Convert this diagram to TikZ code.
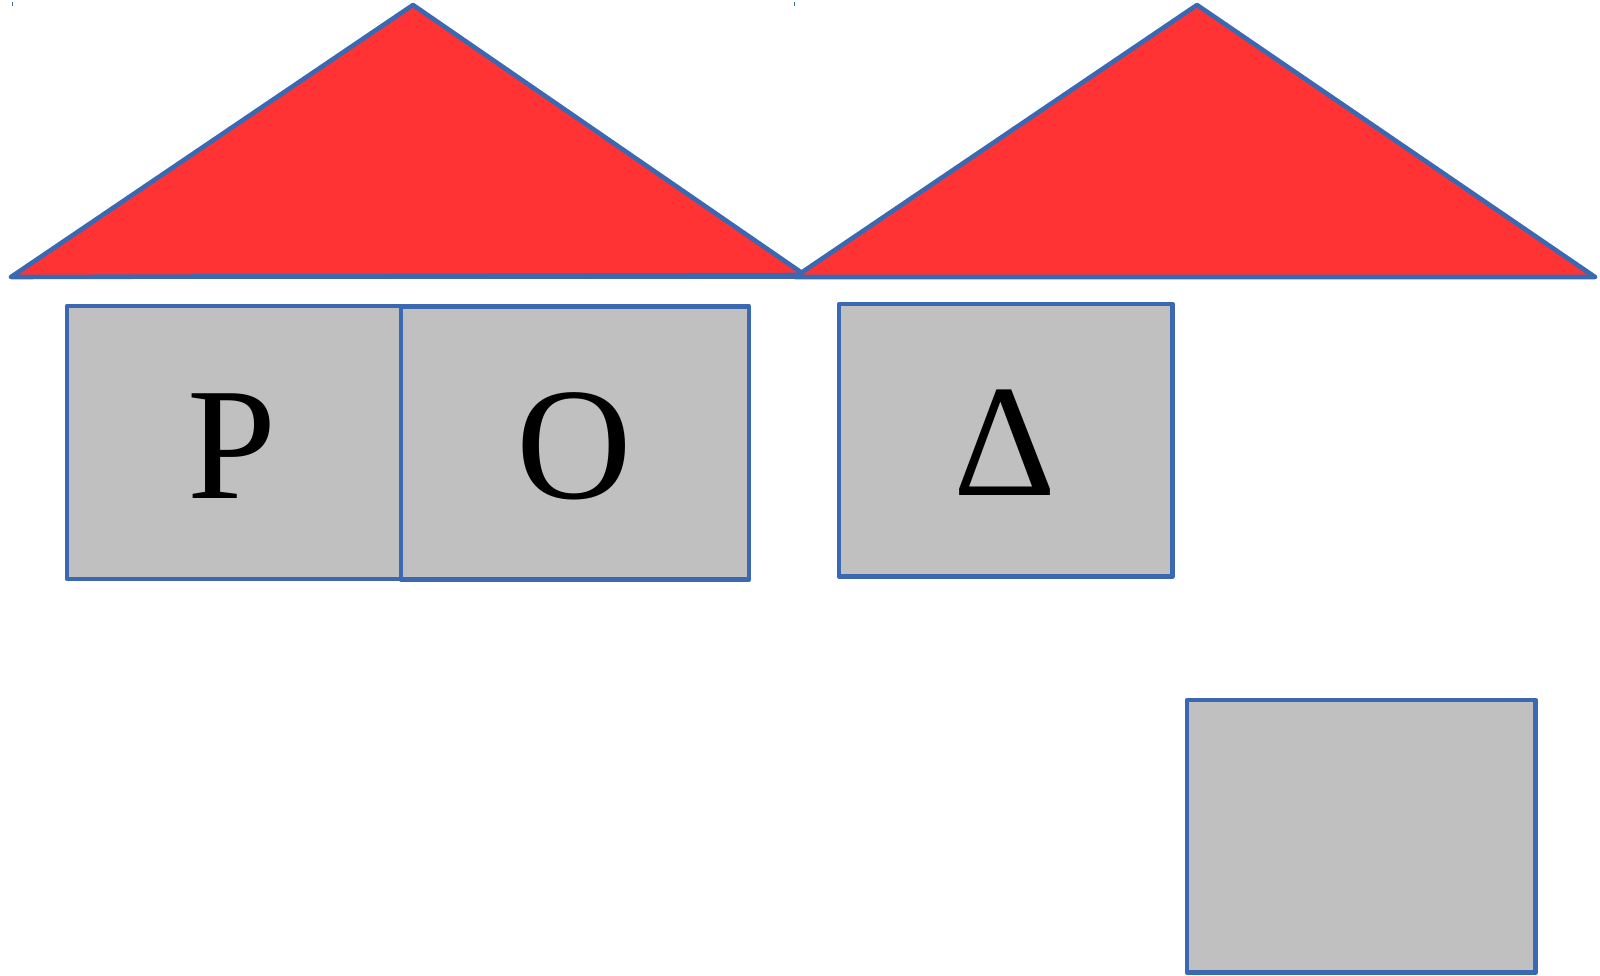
\documentclass[tikz,border=0pt]{standalone}
\usepackage{fontspec}
\setmainfont{Liberation Serif}
\definecolor{edgeblue}{HTML}{3A69B2}
\definecolor{roofred}{HTML}{FF3334}
\definecolor{boxgray}{HTML}{C0C0C0}
\begin{document}
\begin{tikzpicture}[x=0.5pt,y=-0.5pt,
  roof/.style={fill=roofred,draw=edgeblue,line width=2.3pt,line join=round},
  box/.style={draw=edgeblue,fill=boxgray,line width=2.3pt,line join=round,inner sep=0pt},
  glyph/.style={font=\fontsize{80}{80}\selectfont,anchor=base,inner sep=0pt},
  tick/.style={draw=edgeblue,line width=0.5pt}]
\useasboundingbox (0,0) rectangle (1600,975);
% ticks
\draw[tick] (12,2) -- (12,6);
\draw[tick] (794,2) -- (794,6);
% roofs
\draw[roof] (11,277) -- (413,5) -- (805,275) -- cycle;
\draw[roof] (795,277) -- (1197,5) -- (1595,277) -- cycle;
\draw[edgeblue,line width=2.3pt,line cap=round] (11,277) -- (1595,277);
% boxes
\node[box,minimum width=167pt,minimum height=136.5pt] (bp) at (234,442.5) {};
\node[box,minimum width=174pt,minimum height=136.75pt] (bo) at (575,443) {};
\node[box,minimum width=166.75pt,minimum height=136.25pt] (bd) at (1005.75,440.25) {};
\node[box,minimum width=174.35pt,minimum height=136.25pt] (be) at (1361.35,836.25) {};
% letters
\node[glyph] (lp) at (232,498) {Ρ};
\node[glyph] (lo) at (574,498) {Ο};
\node[glyph] (ld) at (1005,495) {Δ};
\end{tikzpicture}
\end{document}
